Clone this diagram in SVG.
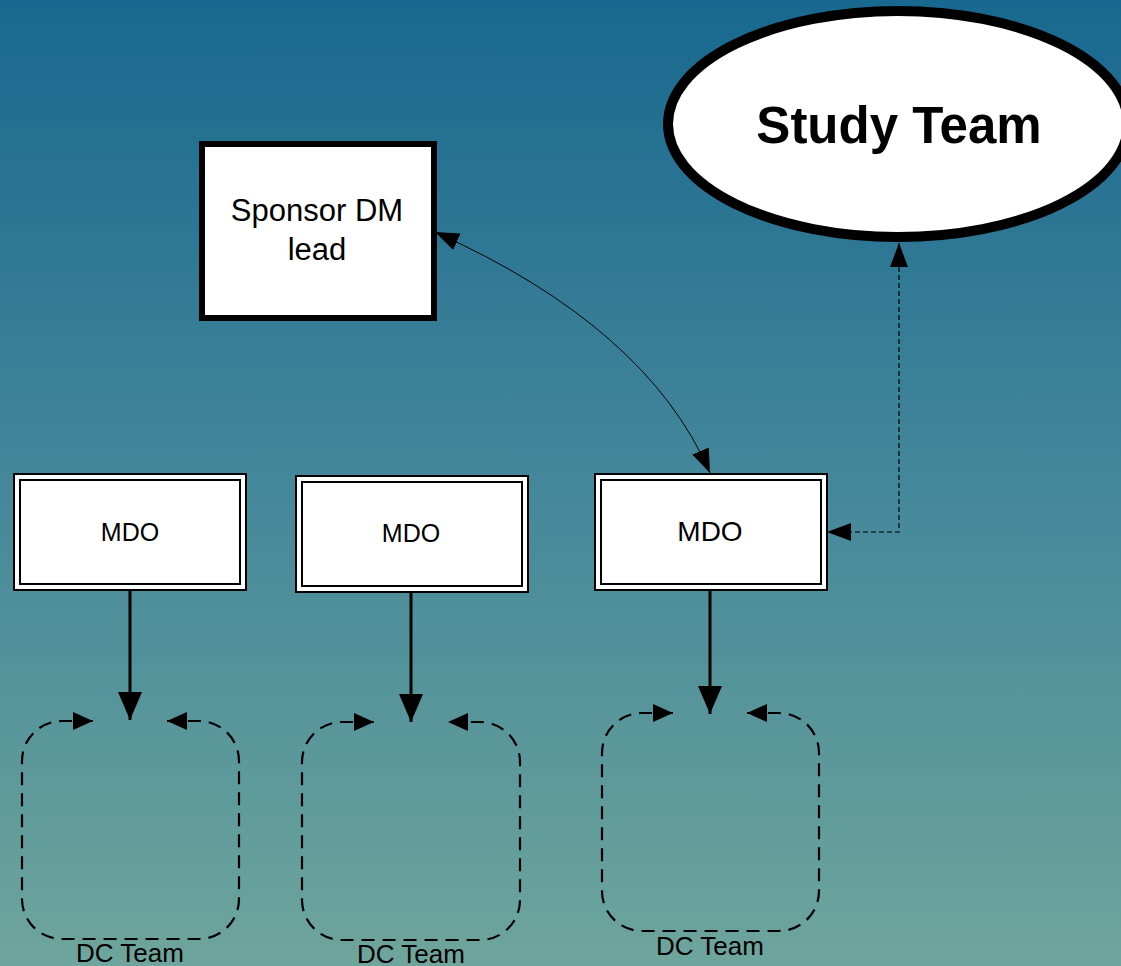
<svg xmlns="http://www.w3.org/2000/svg" width="1121" height="966" viewBox="0 0 1121 966">
<defs>
<linearGradient id="bg" x1="0" y1="0" x2="0" y2="1">
<stop offset="0" stop-color="#18688F"/>
<stop offset="0.5" stop-color="#44879A"/>
<stop offset="1" stop-color="#6EA59C"/>
</linearGradient>
<marker id="headBig" markerUnits="userSpaceOnUse" markerWidth="30" markerHeight="26" refX="28" refY="12" orient="auto-start-reverse" viewBox="0 0 30 24">
<path d="M0,0 L28,12 L0,24 Z" fill="#000"/>
</marker>
<marker id="headMed" markerUnits="userSpaceOnUse" markerWidth="26" markerHeight="20" refX="24" refY="9" orient="auto-start-reverse" viewBox="0 0 26 18">
<path d="M0,0 L24,9 L0,18 Z" fill="#000"/>
</marker>
<marker id="headSm" markerUnits="userSpaceOnUse" markerWidth="22" markerHeight="20" refX="20" refY="9" orient="auto-start-reverse" viewBox="0 0 22 18">
<path d="M0,0 L20,9 L0,18 Z" fill="#000"/>
</marker>
</defs>
<style>
.lbl{font-family:"Liberation Sans",Arial,sans-serif;fill:#000;text-anchor:middle}
.outer{fill:#fff;stroke:#000;stroke-width:2}
.inner{fill:none;stroke:#000;stroke-width:2}
.loop{fill:none;stroke:#000;stroke-width:2.2;stroke-dasharray:13 8;marker-start:url(#headSm);marker-end:url(#headSm)}
.down{stroke:#000;stroke-width:3;fill:none;marker-end:url(#headBig)}
</style>
<rect x="0" y="0" width="1121" height="966" fill="url(#bg)"/>

<g id="connectors">
<path d="M435,232 Q647,327 710,473" fill="none" stroke="#000" stroke-width="1" marker-start="url(#headMed)" marker-end="url(#headMed)"/>
<path d="M899,243 V532 H827" fill="none" stroke="#000" stroke-width="1.2" stroke-dasharray="5 3" marker-start="url(#headMed)" marker-end="url(#headMed)"/>
<line class="down" x1="130" y1="590" x2="130" y2="720"/>
<line class="down" x1="411" y1="592" x2="411" y2="722"/>
<line class="down" x1="710" y1="590" x2="710" y2="714"/>
</g>

<g id="study-team">
<ellipse cx="898" cy="124" rx="230" ry="113" fill="#fff" stroke="#000" stroke-width="10"/>
<text class="lbl" x="899" y="143" font-size="51" font-weight="bold">Study Team</text>
</g>

<g id="sponsor-dm-lead">
<rect x="202" y="144" width="232" height="174" fill="#fff" stroke="#000" stroke-width="6"/>
<text class="lbl" x="317" y="221" font-size="31">Sponsor DM</text>
<text class="lbl" x="317" y="260" font-size="31">lead</text>
</g>

<g id="mdo-1">
<rect class="outer" x="14" y="474" width="232" height="116"/>
<rect class="inner" x="20" y="480" width="220" height="104"/>
<text class="lbl" x="130" y="541" font-size="25">MDO</text>
</g>
<g id="mdo-2">
<rect class="outer" x="296" y="476" width="232" height="116"/>
<rect class="inner" x="302" y="482" width="220" height="104"/>
<text class="lbl" x="411" y="542" font-size="25">MDO</text>
</g>
<g id="mdo-3">
<rect class="outer" x="595" y="474" width="232" height="116"/>
<rect class="inner" x="601" y="480" width="220" height="104"/>
<text class="lbl" x="710" y="541" font-size="28">MDO</text>
</g>

<g id="dc-team-1">
<path class="loop" d="M93,721 H62 A40 40 0 0 0 22,761 V899 A40 40 0 0 0 62,939 H199 A40 40 0 0 0 239,899 V761 A40 40 0 0 0 199,721 H167"/>
<text class="lbl" x="130" y="962" font-size="26">DC Team</text>
</g>
<g id="dc-team-2">
<path class="loop" d="M374,722 H342 A40 40 0 0 0 302,762 V900 A40 40 0 0 0 342,940 H480 A40 40 0 0 0 520,900 V762 A40 40 0 0 0 480,722 H448"/>
<text class="lbl" x="411" y="963" font-size="26">DC Team</text>
</g>
<g id="dc-team-3">
<path class="loop" d="M673,713 H642 A40 40 0 0 0 602,753 V891 A40 40 0 0 0 642,931 H779 A40 40 0 0 0 819,891 V753 A40 40 0 0 0 779,713 H747"/>
<text class="lbl" x="710" y="955" font-size="26">DC Team</text>
</g>
</svg>
